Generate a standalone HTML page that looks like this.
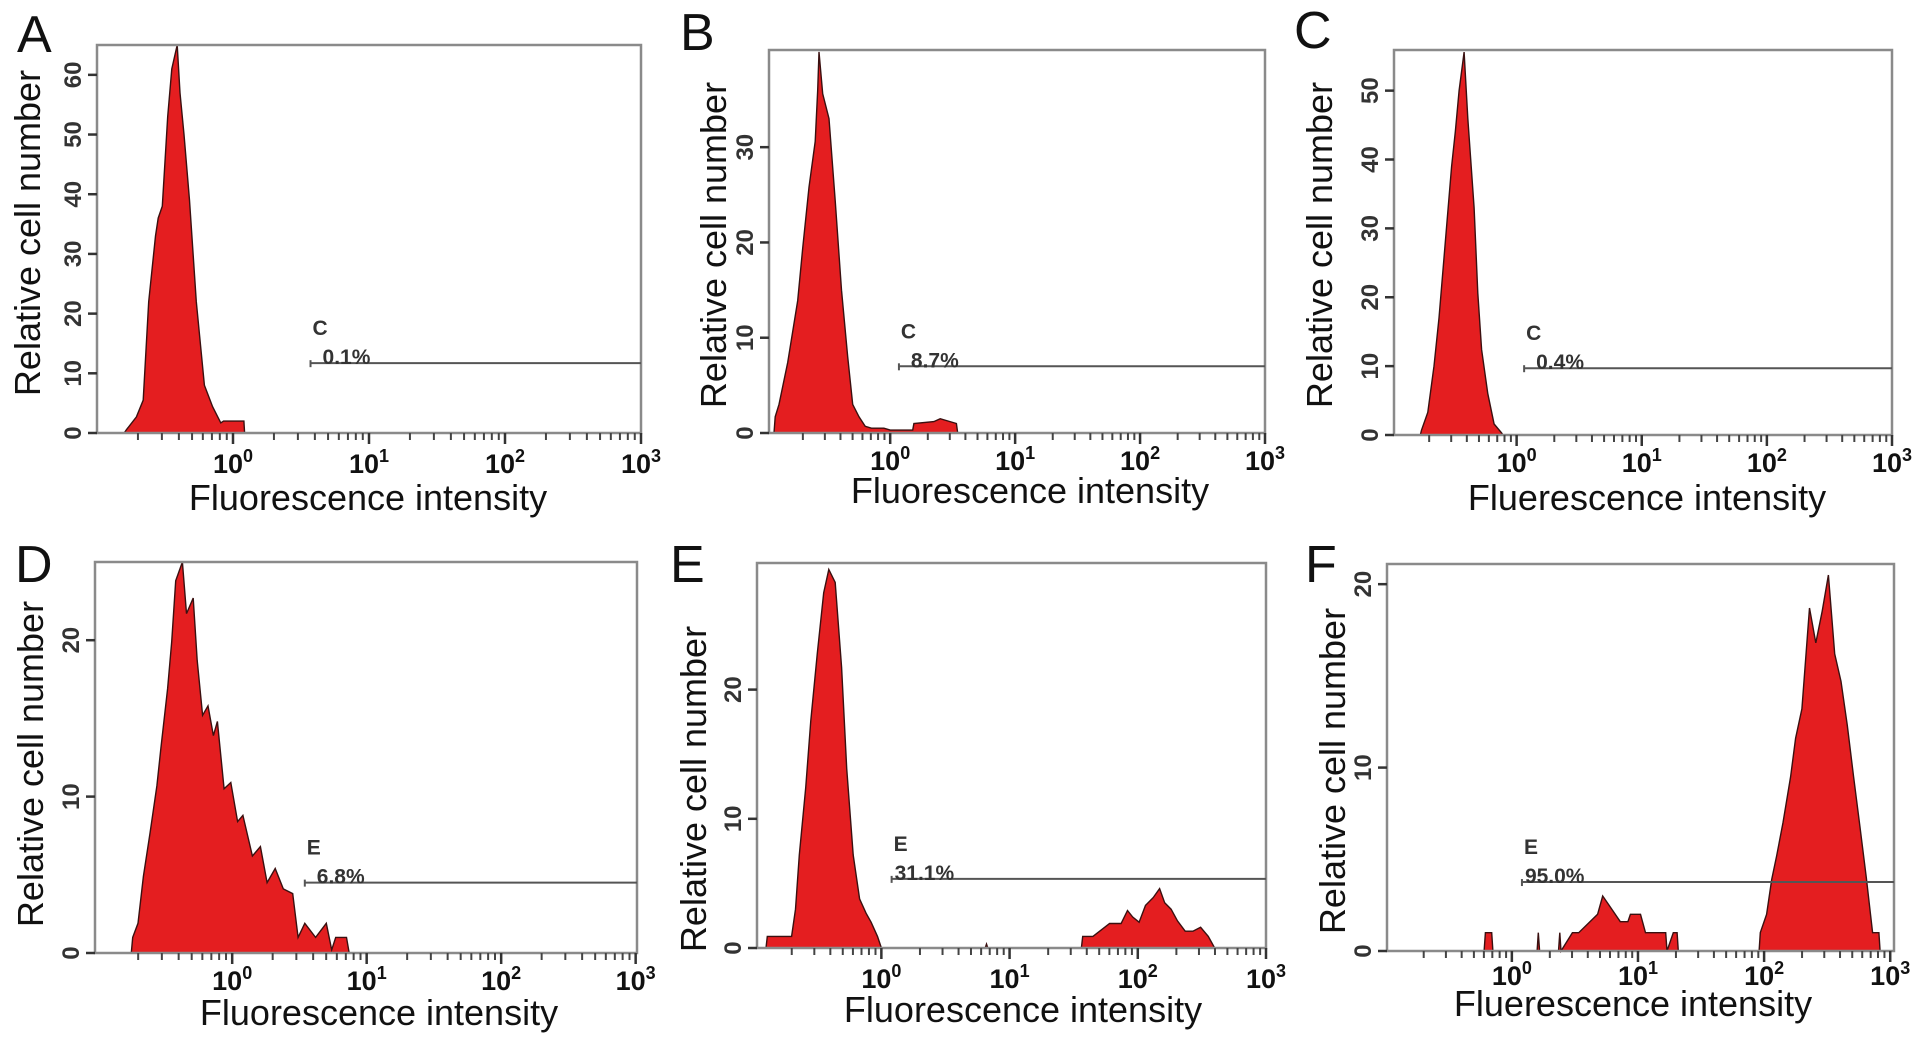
<!DOCTYPE html>
<html><head><meta charset="utf-8"><style>
html,body{margin:0;padding:0;background:#fff;}
svg{display:block;font-family:"Liberation Sans",Arial,sans-serif;}
</style></head><body>
<svg id="fig" width="1913" height="1044" viewBox="0 0 1913 1044" xmlns="http://www.w3.org/2000/svg"></svg>
<script>
// ---- data (log10 fluorescence positions, cell counts) ----
const histA_x = [-0.80,-0.785,-0.71,-0.66,-0.62,-0.57,-0.55,-0.52,-0.48,-0.45,-0.41,-0.39,-0.36,-0.32,-0.27,-0.21,-0.15,-0.09,-0.07,0.0,0.02,0.08,0.085];
const histA_y = [0,0.5,2.7,5.5,22,33,36,38,53,61,65,57,50,39,22,8,4.4,1.7,2,2,2,2,0];
const histB_x = [-0.93,-0.92,-0.89,-0.82,-0.74,-0.70,-0.65,-0.60,-0.58,-0.57,-0.54,-0.49,-0.44,-0.39,-0.34,-0.30,-0.25,-0.20,-0.15,-0.05,0.0,0.18,0.19,0.35,0.40,0.53,0.54];
const histB_y = [0,1.7,3.0,7.4,13.9,19.4,25.8,30.6,36,40,35.6,33,24.4,15,8,3,1.7,0.7,0.5,0.5,0.3,0.3,1.0,1.2,1.5,1.0,0];
const histC_x = [-0.77,-0.76,-0.71,-0.66,-0.62,-0.57,-0.52,-0.49,-0.46,-0.42,-0.39,-0.34,-0.31,-0.28,-0.23,-0.18,-0.12,-0.11];
const histC_y = [0,0.7,3.3,10,17,28,39,44,50,55.6,46,33,20.6,12.4,6,1.6,0.3,0];
const histD_x = [-0.75,-0.74,-0.70,-0.66,-0.61,-0.56,-0.53,-0.48,-0.45,-0.42,-0.37,-0.34,-0.29,-0.26,-0.22,-0.18,-0.14,-0.11,-0.06,-0.01,0.04,0.08,0.15,0.21,0.26,0.32,0.38,0.45,0.49,0.54,0.62,0.70,0.74,0.77,0.85,0.87];
const histD_y = [0,1.0,1.9,4.9,7.7,10.7,13.1,16.9,19.9,23.8,25,21.7,22.7,18.7,15.2,15.8,13.9,14.8,10.5,10.9,8.4,8.8,6.2,6.8,4.5,5.4,4.1,3.8,1.0,1.9,1.0,1.9,0.2,1.0,1.0,0];
const histE_x = [-0.90,-0.89,-0.84,-0.80,-0.70,-0.67,-0.64,-0.59,-0.55,-0.50,-0.45,-0.41,-0.36,-0.31,-0.27,-0.22,-0.17,-0.12,-0.08,-0.03,0.0,0.81,0.82,0.83,1.56,1.57,1.65,1.78,1.87,1.92,1.96,2.01,2.06,2.12,2.17,2.21,2.26,2.31,2.37,2.43,2.49,2.55,2.60];
const histE_y = [0,0.9,0.9,0.9,0.9,3.0,7.2,12.4,17.6,22.8,27.5,29.3,28.3,21.7,13.9,7.2,3.8,2.7,2.0,0.9,0,0,0.3,0,0,0.9,0.9,1.9,1.9,2.9,2.4,2.0,3.3,3.9,4.6,3.5,3.0,2.1,1.3,1.3,1.6,0.9,0];
const histF_x = [-0.22,-0.21,-0.16,-0.15,0.20,0.21,0.22,0.37,0.38,0.39,0.48,0.53,0.68,0.72,0.77,0.86,0.92,0.94,1.02,1.06,1.16,1.22,1.23,1.28,1.31,1.32,1.96,1.97,2.02,2.06,2.10,2.15,2.21,2.25,2.30,2.36,2.41,2.46,2.51,2.56,2.61,2.66,2.71,2.76,2.81,2.86,2.91,2.92];
const histF_y = [0,1.0,1.0,0,0,1.0,0,0,1.0,0,1.0,1.0,2.0,3.0,2.5,1.6,1.6,2.0,2.0,1.0,1.0,1.0,0,1.0,1.0,0,0,1.0,2.0,3.9,5.2,7.0,9.5,11.6,13.2,18.7,16.8,18.5,20.5,16.2,14.7,12.3,9.5,6.8,4.0,1.0,1.0,0];
const yTicksA = [0,10,20,30,40,50,60];
const yTicksB = [0,10,20,30];
const yTicksC = [0,10,20,30,40,50];
const yTicksD = [0,10,20];
const yTicksE = [0,10,20];
const yTicksF = [0,10,20];
const xDecades = [0,1,2,3];
const gateStart = [0.57,0.07,0.06,0.54,0.08,0.08];
const gateLevel = [11.7,7.0,9.7,4.5,5.35,3.76];
const gateNames = ["C","C","C","E","E","E"];
const gatePct = ["0.1%","8.7%","0.4%","6.8%","31.1%","95.0%"];
const panelLetters = ["A","B","C","D","E","F"];
const xTitles = ["Fluorescence intensity","Fluorescence intensity","Fluerescence intensity","Fluorescence intensity","Fluorescence intensity","Fluerescence intensity"];

// ---- layout ----
const layout = [
 {l:97,t:45,r:641,b:433,lmin:-1.0,lmax:3.0,ymax:65,ytx:27,yty:233,xtb:473,xtt:510,xtc:368,lx:17,lb:52},
 {l:769,t:50,r:1265,b:433,lmin:-0.97,lmax:3.0,ymax:40.2,ytx:713,yty:245,xtb:470,xtt:503,xtc:1030,lx:680,lb:50},
 {l:1394,t:50,r:1892,b:435,lmin:-0.98,lmax:3.0,ymax:55.9,ytx:1319,yty:245,xtb:472,xtt:510,xtc:1647,lx:1294,lb:48},
 {l:95,t:562,r:637,b:953,lmin:-1.02,lmax:3.01,ymax:25,ytx:30,yty:764,xtb:990,xtt:1025,xtc:379,lx:15,lb:582},
 {l:757,t:563,r:1266,b:948,lmin:-0.97,lmax:3.0,ymax:29.8,ytx:693,yty:789,xtb:988,xtt:1022,xtc:1023,lx:670,lb:582},
 {l:1387,t:564,r:1894,b:951,lmin:-0.99,lmax:3.03,ymax:21.1,ytx:1332,yty:771,xtb:985,xtt:1016,xtc:1633,lx:1305,lb:582}
];
const hx = [histA_x,histB_x,histC_x,histD_x,histE_x,histF_x];
const hy = [histA_y,histB_y,histC_y,histD_y,histE_y,histF_y];
const yt = [yTicksA,yTicksB,yTicksC,yTicksD,yTicksE,yTicksF];

const NS = "http://www.w3.org/2000/svg";
const svg = document.getElementById('fig');
function mk(tag, attrs, parent){
  const e = document.createElementNS(NS, tag);
  for (const k in attrs) e.setAttribute(k, attrs[k]);
  (parent||svg).appendChild(e);
  return e;
}
const ids = ["a","b","c","d","e","f"];
layout.forEach((p, i) => {
  const X = v => p.l + (v - p.lmin) / (p.lmax - p.lmin) * (p.r - p.l);
  const Y = v => p.b - v / p.ymax * (p.b - p.t);
  const g = mk('g', {});
  
  

  const letter = mk('text', {x:p.lx, y:p.lb, 'font-size':52, fill:'#111'}, g);
  letter.textContent = panelLetters[i];
  
  

  let d = 'M' + X(hx[i][0]).toFixed(1) + ',' + p.b;
  for (let k = 0; k < hx[i].length; k++) d += ' L' + X(hx[i][k]).toFixed(1) + ',' + Y(hy[i][k]).toFixed(1);
  d += ' L' + X(hx[i][hx[i].length-1]).toFixed(1) + ',' + p.b + ' Z';
  const h = mk('path', {d:d, fill:'#e41e20', stroke:'#3a1010', 'stroke-width':1.4, 'stroke-linejoin':'miter'}, g);
  
  

  const fr = mk('rect', {x:p.l, y:p.t, width:p.r-p.l, height:p.b-p.t, fill:'none', stroke:'#8a8a8a', 'stroke-width':2.5}, g);
  
  

  yt[i].forEach(v => {
    mk('line', {x1:p.l-9, x2:p.l, y1:Y(v), y2:Y(v), stroke:'#333', 'stroke-width':2.5}, g);
    const t = mk('text', {x:p.l-16, y:Y(v), 'font-size':24, 'font-weight':'bold', fill:'#333', 'text-anchor':'middle', transform:'rotate(-90 '+(p.l-16)+' '+Y(v)+')'}, g);
    t.textContent = v;
    
    
  });
  for (let dec = -1; dec < 3; dec++) {
    for (let m = 2; m <= 9; m++) {
      const lv = dec + Math.log10(m);
      if (lv < p.lmin) continue;
      mk('line', {x1:X(lv), x2:X(lv), y1:p.b, y2:p.b+7, stroke:'#444', 'stroke-width':2}, g);
    }
  }
  xDecades.forEach(dv => {
    mk('line', {x1:X(dv), x2:X(dv), y1:p.b, y2:p.b+11, stroke:'#333', 'stroke-width':2.5}, g);
    const t = mk('text', {x:X(dv), y:p.xtb, 'font-size':27, 'font-weight':'bold', fill:'#111', 'text-anchor':'middle'}, g);
    t.innerHTML = '10<tspan dy="-11" font-size="18">' + dv + '</tspan>';
    
    
  });

  const gy = Y(gateLevel[i]), gx = X(gateStart[i]);
  const gl = mk('line', {x1:gx, x2:p.r, y1:gy, y2:gy, stroke:'#555', 'stroke-width':2}, g);
  
  
  mk('line', {x1:gx, x2:gx, y1:gy-3, y2:gy+4, stroke:'#555', 'stroke-width':2}, g);
  const gn = mk('text', {x:gx+2, y:gy-28, 'font-size':21, 'font-weight':'bold', fill:'#333'}, g);
  gn.textContent = gateNames[i];
  
  
  const gp = mk('text', {x:gx+(i>=4?3:12), y:gy+1, 'font-size':21, 'font-weight':'bold', fill:'#333'}, g);
  gp.textContent = gatePct[i];
  
  

  const yti = mk('text', {x:p.ytx+13, y:p.yty, 'font-size':36, fill:'#111', 'text-anchor':'middle', transform:'rotate(-90 '+(p.ytx+13)+' '+p.yty+')'}, g);
  yti.textContent = 'Relative cell number';
  
  
  const xti = mk('text', {x:p.xtc, y:p.xtt, 'font-size':36, fill:'#111', 'text-anchor':'middle'}, g);
  xti.textContent = xTitles[i];
  
  
});
</script>
</body></html>
